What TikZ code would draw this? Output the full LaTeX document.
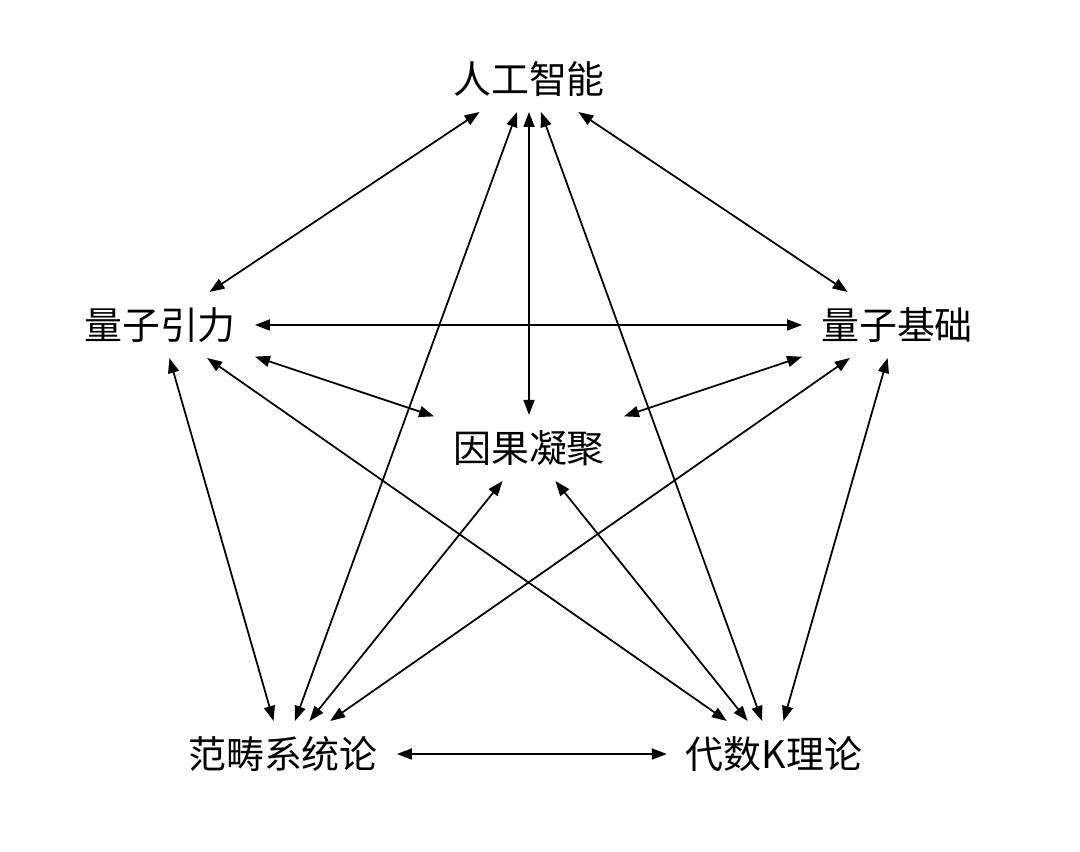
\documentclass[tikz,border=0pt]{standalone}
\usepackage{fontspec}
\setmainfont{Noto Sans CJK SC}
\usepackage{tikz}
\usetikzlibrary{arrows.meta}

\begin{document}
\begin{tikzpicture}[
			topic/.style={
				rectangle,
				inner xsep=0.38cm,
				inner ysep=0pt,
				outer sep=0pt,
				minimum height=1.32cm,
				align=center,
				font=\fontsize{21.6}{26}\selectfont
			},
			link/.style={
				{Triangle[length=0.3cm,width=0.22cm]}-{Triangle[length=0.3cm,width=0.22cm]},
				line width=1pt,
				draw=black
			}
			]
			\useasboundingbox (0,0) rectangle (21.6,17.04);
			
			% 节点
			\node[topic] (ai) at (10.58,15.46) {人工智能};
			\node[topic] (qg) at (3.20,10.54) {量子引力};
			\node[topic] (qf) at (17.94,10.54) {量子基础};
			\node[topic] (cc) at (10.58,8.08) {因果凝聚};
			\node[topic] (cs) at (5.66,1.96) {范畴系统论};
			\node[topic] (ak) at (15.48,1.96) {代数K理论};
			
			% 人工智能的连线
			\draw[link] (ai) -- (qg);
			\draw[link] (ai) -- (qf);
			\draw[link] (ai) -- (cc);
			\draw[link] (ai) -- (cs);
			\draw[link] (ai) -- (ak);
			
			% 量子引力的连线
			\draw[link] (qg) -- (qf);
			\draw[link] (qg) -- (cc);
			\draw[link] (qg) -- (cs);
			\draw[link] (qg) -- (ak);
			
			% 量子基础的连线
			\draw[link] (qf) -- (cc);
			\draw[link] (qf) -- (cs);
			\draw[link] (qf) -- (ak);
			
			% 其余
			\draw[link] (cc) -- (cs);
			\draw[link] (cc) -- (ak);
			\draw[link] (cs) -- (ak);
		\end{tikzpicture}
\end{document}
